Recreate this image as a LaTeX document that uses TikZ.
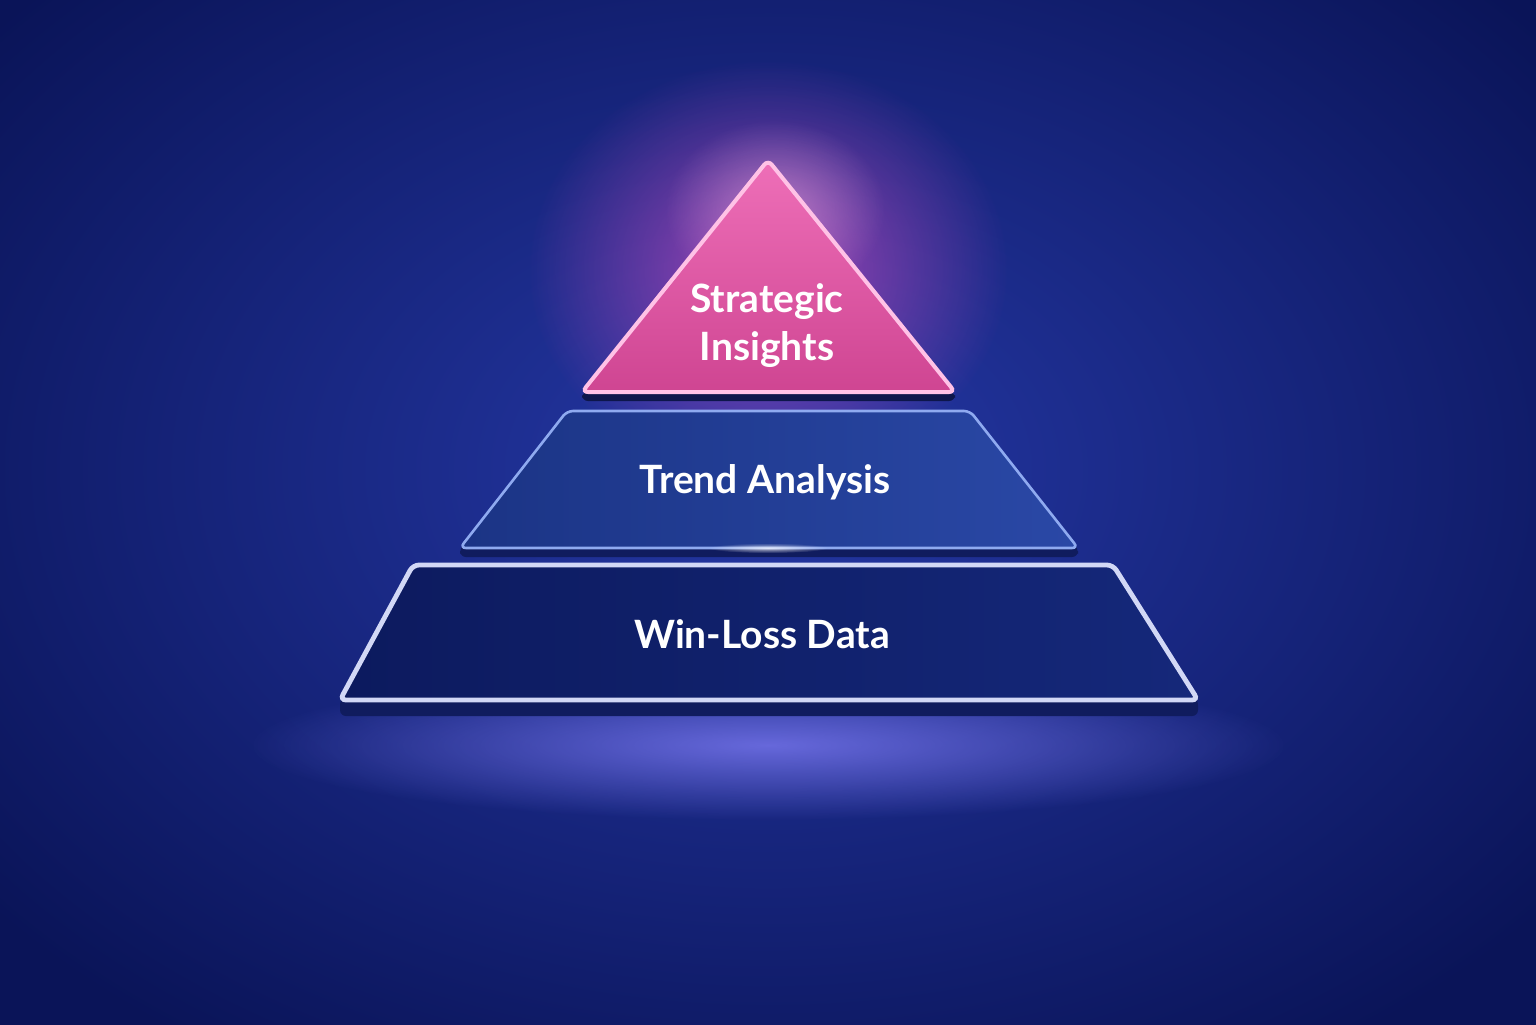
\documentclass[tikz,border=0pt]{standalone}
\usepackage{fontspec}
\setmainfont{Lato}
\usetikzlibrary{fadings}

\definecolor{bgdeep}{HTML}{0A1458}
\definecolor{bgmid}{HTML}{2538A6}
\definecolor{pinktop}{HTML}{EE6FB8}
\definecolor{pinkbot}{HTML}{CF4592}
\definecolor{pinkrim}{HTML}{FFC2E6}
\definecolor{pinkglow}{HTML}{E050C8}
\definecolor{midleft}{HTML}{1B3485}
\definecolor{midright}{HTML}{2A48A6}
\definecolor{midrim}{HTML}{8FAAF0}
\definecolor{lowleft}{HTML}{0C1A5E}
\definecolor{lowright}{HTML}{15287A}
\definecolor{lowrim}{HTML}{D2D8F6}
\definecolor{slab}{HTML}{101C5E}
\definecolor{floorglow}{HTML}{7A78F0}

\tikzfading[name=softglow, inner color=transparent!0, outer color=transparent!100]

\tikzset{
  label/.style={text=white, font=\bfseries\fontsize{19.5}{24}\selectfont, align=center},
  band/.style={rounded corners=3pt},
}

\begin{document}
\begin{tikzpicture}[x=0.5pt, y=-0.5pt]
\useasboundingbox (0,0) rectangle (1536,1024);
\clip (0,0) rectangle (1536,1024);

% background
\shade[inner color=bgmid, outer color=bgdeep] (-232,-230) rectangle (1768,1170);

% glows
\fill[pinkglow, opacity=0.7, path fading=softglow] (768,270) ellipse [x radius=240, y radius=210];
\fill[pinkrim, opacity=0.45, path fading=softglow] (775,210) ellipse [x radius=110, y radius=90];
\fill[floorglow, opacity=0.8, path fading=softglow] (768,745) ellipse [x radius=520, y radius=75];

% bottom band: Win-Loss Data
\fill[slab, band] (340,700) -- (413,575) -- (1113,575) -- (1198,700) -- (1198,716) -- (340,716) -- cycle;
\shade[band, left color=lowleft, right color=lowright] (340,700) -- (413,565) -- (1113,565) -- (1198,700) -- cycle;
\draw[lowrim, line width=2.4pt, band] (340,700) -- (413,565) -- (1113,565) -- (1198,700) -- cycle;

% middle band: Trend Analysis
\fill[slab, band] (460,548) -- (567,420) -- (970,420) -- (1078,548) -- (1078,557) -- (460,557) -- cycle;
\shade[band, left color=midleft, right color=midright] (460,548) -- (567,411) -- (970,411) -- (1078,548) -- cycle;
\draw[midrim, line width=1.3pt, band] (460,548) -- (567,411) -- (970,411) -- (1078,548) -- cycle;
\fill[white, opacity=0.7, path fading=softglow] (768,548) ellipse [x radius=60, y radius=5];

% top triangle: Strategic Insights
\fill[slab!80!black, band] (582,392) -- (955,392) -- (955,401) -- (582,401) -- cycle;
\shade[band, top color=pinktop, bottom color=pinkbot] (768,160) -- (955,392) -- (582,392) -- cycle;
\draw[pinkrim, line width=2pt, band] (768,160) -- (955,392) -- (582,392) -- cycle;

% labels
\node[label] (top) at (767,326) {Strategic\\Insights};
\node[label] (mid) at (765,482) {Trend Analysis};
\node[label] (low) at (762,634) {Win-Loss Data};
\end{tikzpicture}
\end{document}
